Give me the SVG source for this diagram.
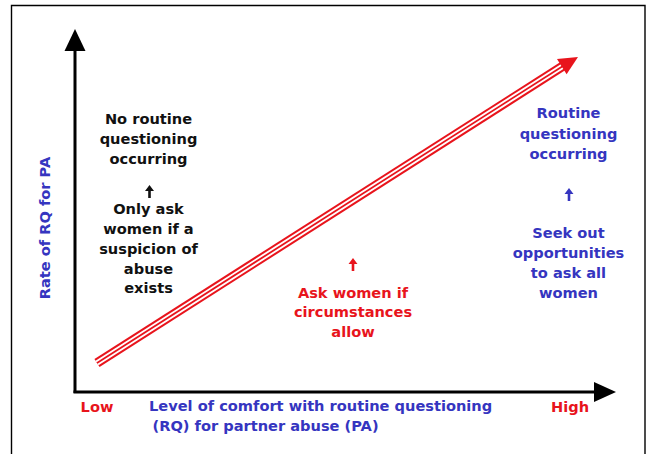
<svg xmlns="http://www.w3.org/2000/svg" width="647" height="454" viewBox="0 0 647 454">
<style>
.t{font-family:"DejaVu Sans",Verdana,sans-serif;font-weight:bold;font-size:14.6px;text-anchor:middle}
.k{fill:#111}
.b{fill:#3535c0}
.r{fill:#e8141c}
.ax{stroke:#000;stroke-width:3;fill:none}
</style>
<defs>
<path id="up" d="M0,0 L-4.5,6 L-1.3,6 L-1.3,13 L1.3,13 L1.3,6 L4.5,6 Z"/>
</defs>
<rect width="647" height="454" fill="#fff"/>
<path d="M11.5,456 V5.5 H645 V456" fill="none" stroke="#000" stroke-width="1.4"/>
<g id="connectors">
<g id="y-axis"><line class="ax" x1="75" y1="393" x2="75" y2="48"/><polygon points="75,29 64.5,51 85.5,51" fill="#000"/></g>
<g id="x-axis"><line class="ax" x1="73.5" y1="392" x2="597" y2="392"/><polygon points="616,392 594,382 594,402" fill="#000"/></g>
<g id="trend-arrow">
<line x1="97" y1="363" x2="563" y2="66" stroke="#e8141c" stroke-width="9.5"/>
<line x1="97" y1="363" x2="563" y2="66" stroke="#fff" stroke-width="5.5"/>
<line x1="97" y1="363" x2="563" y2="66" stroke="#e8141c" stroke-width="1.8"/>
<polygon points="578,57 566.6,74.3 557,59.1" fill="#e8141c"/>
</g>
<use href="#up" x="149.5" y="185" fill="#111"/>
<use href="#up" x="353" y="258" fill="#e8141c"/>
<use href="#up" x="569" y="188" fill="#3535c0"/>
</g>
<g id="y-label"><text class="t b" transform="translate(49.5,228) rotate(-90)" style="font-weight:600">Rate of RQ for PA</text></g>
<g id="low-node">
<text class="t k" x="148.5" y="124">No routine</text>
<text class="t k" x="148.5" y="144">questioning</text>
<text class="t k" x="148.5" y="164">occurring</text>
<text class="t k" x="148.5" y="214">Only ask</text>
<text class="t k" x="148.5" y="234">women if a</text>
<text class="t k" x="148.5" y="254">suspicion of</text>
<text class="t k" x="148.5" y="274">abuse</text>
<text class="t k" x="148.5" y="293">exists</text>
</g>
<g id="mid-node">
<text class="t r" x="353" y="298">Ask women if</text>
<text class="t r" x="353" y="317">circumstances</text>
<text class="t r" x="353" y="337">allow</text>
</g>
<g id="high-node">
<text class="t b" x="568.5" y="118">Routine</text>
<text class="t b" x="568.5" y="139">questioning</text>
<text class="t b" x="568.5" y="159">occurring</text>
<text class="t b" x="568.5" y="238">Seek out</text>
<text class="t b" x="568.5" y="258">opportunities</text>
<text class="t b" x="568.5" y="278">to ask all</text>
<text class="t b" x="568.5" y="298">women</text>
</g>
<g id="x-labels">
<text class="t r" x="97" y="412">Low</text>
<text class="t r" x="570" y="412">High</text>
<text class="t b" x="149" y="411" style="text-anchor:start">Level of comfort with routine questioning</text>
<text class="t b" x="152.5" y="431" style="text-anchor:start">(RQ) for partner abuse (PA)</text>
</g>
</svg>
